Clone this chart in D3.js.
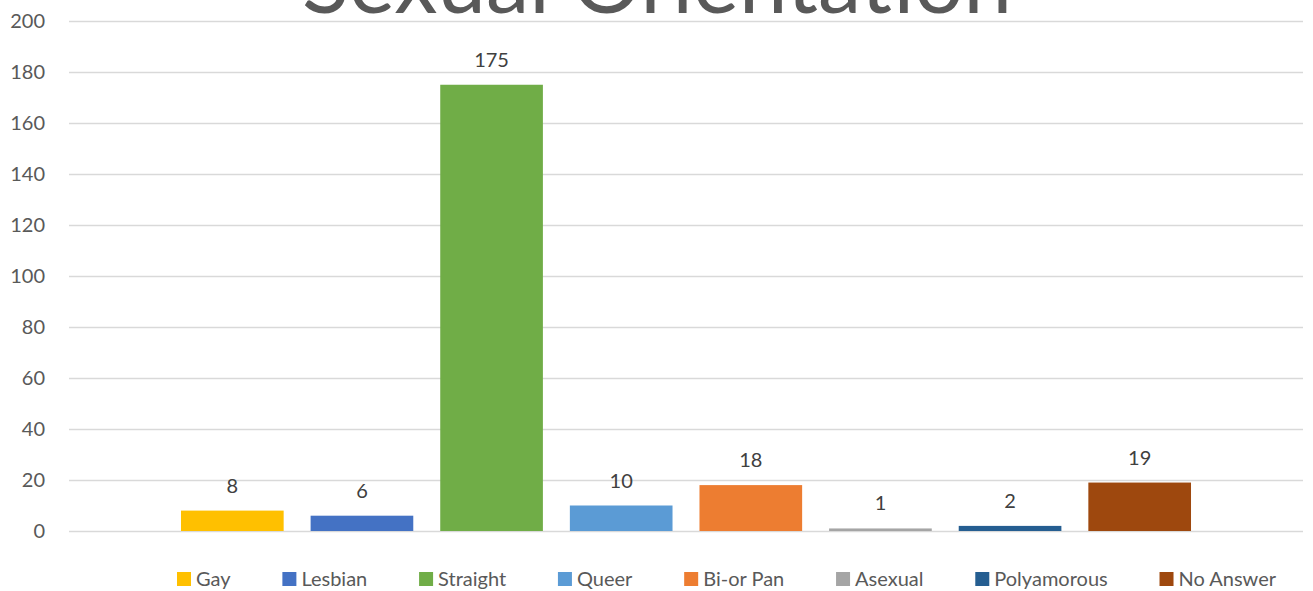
<!DOCTYPE html>
<html>
<head>
<meta charset="utf-8">
<script src="https://cdn.jsdelivr.net/npm/d3@7"></script>
<style>
  html, body { margin: 0; padding: 0; background: #fff; }
  svg { display: block; font-family: Lato, "Open Sans", sans-serif; }
</style>
</head>
<body>
<svg id="chart" width="1313" height="591"></svg>
<script>
// Survey responses by sexual orientation
const categories = ["Gay", "Lesbian", "Straight", "Queer", "Bi-or Pan", "Asexual", "Polyamorous", "No Answer"];
const counts = [8, 6, 175, 10, 18, 1, 2, 19];
const colors = ["#FFC000", "#4472C4", "#70AD47", "#5B9BD5", "#ED7D31", "#A5A5A5", "#255E91", "#9E480E"];
const yTicks = [0, 20, 40, 60, 80, 100, 120, 140, 160, 180, 200];
const title = "Sexual Orientation";

const svg = d3.select("#chart");
const plot = { left: 69, right: 1303, top: 21, bottom: 531 };

const x = d3.scaleBand()
  .domain(categories)
  .range([plot.left, plot.right])
  .paddingInner(0.208)
  .paddingOuter(0.864);

const y = d3.scaleLinear()
  .domain([0, 200])
  .range([plot.bottom, plot.top]);

// Title (large, sits above the plot)
const t = svg.append("text")
  .attr("x", 657)
  .attr("y", 13)
  .attr("text-anchor", "middle")
  .attr("fill", "#595959")
  .style("font-size", "80px")
  .text(title);
const tw = t.node().getComputedTextLength();
t.style("font-size", (80 * 710 / tw) + "px");

// Gridlines + tick labels
const yAxis = d3.axisLeft(y)
  .tickValues(yTicks)
  .tickSize(-(plot.right - plot.left))
  .tickPadding(24)
  .tickFormat(d3.format("d"));

const gy = svg.append("g")
  .attr("transform", `translate(${plot.left},0)`)
  .call(yAxis);
gy.select(".domain").remove();
gy.selectAll(".tick line")
  .attr("stroke", "#d9d9d9")
  .attr("stroke-width", 1.5);
gy.selectAll(".tick text")
  .attr("fill", "#595959")
  .style("font-size", "20px")
  .style("font-family", "Lato, 'Open Sans', sans-serif");

// Bars
svg.append("g").selectAll("rect")
  .data(categories)
  .join("rect")
  .attr("x", d => x(d))
  .attr("width", x.bandwidth())
  .attr("y", (d, i) => y(counts[i]))
  .attr("height", (d, i) => y(0) - y(counts[i]))
  .attr("fill", (d, i) => colors[i]);

// Value labels
svg.append("g").selectAll("text")
  .data(categories)
  .join("text")
  .attr("x", d => x(d) + x.bandwidth() / 2)
  .attr("y", (d, i) => y(counts[i]) - 18)
  .attr("text-anchor", "middle")
  .attr("fill", "#404040")
  .style("font-size", "20px")
  .text((d, i) => counts[i]);

// Legend
const legendStart = 177, legendEnd = 1276, sw = 14, sgap = 5;
const lg = svg.append("g");
const items = lg.selectAll("g")
  .data(categories)
  .join("g");
items.append("rect")
  .attr("width", sw).attr("height", sw)
  .attr("y", 572)
  .attr("fill", (d, i) => colors[i]);
items.append("text")
  .attr("x", sw + sgap)
  .attr("y", 586)
  .attr("fill", "#595959")
  .style("font-size", "20px")
  .text(d => d);
const widths = [];
items.each(function () {
  widths.push(sw + sgap + d3.select(this).select("text").node().getComputedTextLength());
});
const gap = (legendEnd - legendStart - d3.sum(widths)) / (widths.length - 1);
let cx = legendStart;
items.attr("transform", (d, i) => {
  const tx = cx;
  cx += widths[i] + gap;
  return `translate(${tx},0)`;
});
</script>
</body>
</html>
